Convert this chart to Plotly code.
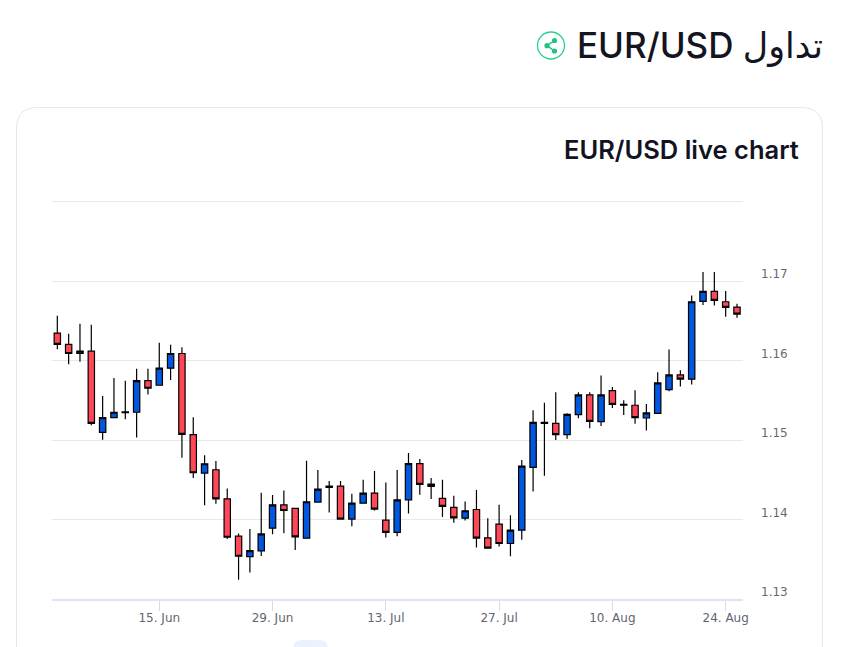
import plotly.graph_objects as go

WIDTH, HEIGHT = 863, 647
LEFT, RIGHT, TOP, BOTTOM = 52, 743, 200, 599  # plot area in page pixels

dates = ['2 Jun', '3 Jun', '4 Jun', '5 Jun', '8 Jun', '9 Jun', '10 Jun', '11 Jun', '12 Jun',
         '15 Jun', '16 Jun', '17 Jun', '18 Jun', '19 Jun', '22 Jun', '23 Jun', '24 Jun', '25 Jun', '26 Jun',
         '29 Jun', '30 Jun', '1 Jul', '2 Jul', '3 Jul', '6 Jul', '7 Jul', '8 Jul', '9 Jul', '10 Jul',
         '13 Jul', '14 Jul', '15 Jul', '16 Jul', '17 Jul', '20 Jul', '21 Jul', '22 Jul', '23 Jul', '24 Jul',
         '27 Jul', '28 Jul', '29 Jul', '30 Jul', '31 Jul', '3 Aug', '4 Aug', '5 Aug', '6 Aug', '7 Aug',
         '10 Aug', '11 Aug', '12 Aug', '13 Aug', '14 Aug', '17 Aug', '18 Aug', '19 Aug', '20 Aug', '21 Aug',
         '24 Aug', '25 Aug']

opens = [1.16345, 1.16202, 1.16088, 1.16118, 1.15096, 1.15281, 1.15344, 1.15349, 1.15748,
         1.15689, 1.15903, 1.16088, 1.15067, 1.14584, 1.14626, 1.14260, 1.13790, 1.13533, 1.13605,
         1.13891, 1.14185, 1.14139, 1.13765, 1.14219, 1.14404, 1.14420, 1.14005, 1.14206, 1.14332,
         1.13992, 1.13837, 1.14248, 1.14702, 1.14446, 1.14265, 1.14152, 1.14017, 1.14126, 1.13769,
         1.13942, 1.13698, 1.13866, 1.14655, 1.15210, 1.15210, 1.15067, 1.15319, 1.15567, 1.15231,
         1.15622, 1.15437, 1.15437, 1.15277, 1.15336, 1.15634, 1.15819, 1.15765, 1.16744, 1.16870,
         1.16739, 1.16672]
highs = [1.16563, 1.16336, 1.16462, 1.16450, 1.15555, 1.15781, 1.15744, 1.15895, 1.15895,
         1.16223, 1.16197, 1.16168, 1.15286, 1.14807, 1.14735, 1.14391, 1.13823, 1.13882, 1.14336,
         1.14307, 1.14365, 1.14139, 1.14740, 1.14622, 1.14483, 1.14483, 1.14324, 1.14500, 1.14609,
         1.14467, 1.14622, 1.14836, 1.14761, 1.14521, 1.14500, 1.14299, 1.14227, 1.14370, 1.14017,
         1.14185, 1.14055, 1.14748, 1.15374, 1.15470, 1.15601, 1.15336, 1.15601, 1.15601, 1.15811,
         1.15668, 1.15500, 1.15626, 1.15454, 1.15853, 1.16139, 1.15878, 1.16819, 1.17113, 1.17113,
         1.16874, 1.16714]
lows = [1.16143, 1.15954, 1.15983, 1.15185, 1.15004, 1.15273, 1.15260, 1.15033, 1.15571,
        1.15689, 1.15756, 1.14777, 1.14521, 1.14180, 1.14197, 1.13756, 1.13243, 1.13332, 1.13542,
        1.13815, 1.13827, 1.13617, 1.13765, 1.14219, 1.14089, 1.14005, 1.13916, 1.14206, 1.14114,
        1.13774, 1.13790, 1.14076, 1.14311, 1.14257, 1.14030, 1.13958, 1.13988, 1.13648, 1.13639,
        1.13660, 1.13538, 1.13744, 1.14353, 1.14550, 1.15000, 1.15017, 1.15273, 1.15147, 1.15176,
        1.15403, 1.15315, 1.15206, 1.15118, 1.15336, 1.15613, 1.15672, 1.15697, 1.16697, 1.16693,
        1.16550, 1.16538]
closes = [1.16202, 1.16088, 1.16118, 1.15210, 1.15281, 1.15349, 1.15353, 1.15748, 1.15651,
          1.15903, 1.16088, 1.15071, 1.14588, 1.14701, 1.14260, 1.13777, 1.13538, 1.13609, 1.13819,
          1.14185, 1.14113, 1.13782, 1.14223, 1.14383, 1.14420, 1.14005, 1.14206, 1.14332, 1.14131,
          1.13837, 1.14248, 1.14702, 1.14441, 1.14416, 1.14164, 1.14021, 1.14110, 1.13765, 1.13639,
          1.13698, 1.13866, 1.14672, 1.15223, 1.15223, 1.15067, 1.15323, 1.15567, 1.15235, 1.15567,
          1.15449, 1.15449, 1.15281, 1.15340, 1.15718, 1.15819, 1.15765, 1.16739, 1.16870, 1.16756,
          1.16668, 1.16584]

x_tick_dates = ['15 Jun', '29 Jun', '13 Jul', '27 Jul', '10 Aug', '24 Aug']
x_tick_labels = ['15. Jun', '29. Jun', '13. Jul', '27. Jul', '10. Aug', '24. Aug']
y_grid = [1.13, 1.14, 1.15, 1.16, 1.17, 1.18]
y_labels = ['1.13', '1.14', '1.15', '1.16', '1.17']


def px(x):
    return (x - LEFT) / (RIGHT - LEFT)


def py(y):
    return (BOTTOM - y) / (BOTTOM - TOP)


def page_path(points):
    return ' '.join(f'{cmd} {px(x)} {py(y)}' for cmd, x, y in points)


def rounded_top(x0, x1, y0, y1, r):
    # open at the bottom, the shape runs off the page there
    return (f'M {px(x0)} {py(y1)} L {px(x0)} {py(y0 + r)} '
            f'Q {px(x0)} {py(y0)} {px(x0 + r)} {py(y0)} L {px(x1 - r)} {py(y0)} '
            f'Q {px(x1)} {py(y0)} {px(x1)} {py(y0 + r)} L {px(x1)} {py(y1)}')


fig = go.Figure(go.Candlestick(
    x=dates, open=opens, high=highs, low=lows, close=closes,
    increasing=dict(fillcolor='#0057e0', line=dict(color='#000000', width=1.2)),
    decreasing=dict(fillcolor='#ff4757', line=dict(color='#000000', width=1.2)),
    whiskerwidth=0,
    showlegend=False,
))

shapes = [
    dict(type='path', path=rounded_top(16.5, 822.5, 107.5, 660, 21), xref='paper', yref='paper',
         line=dict(color='#e6e6f0', width=1), layer='below'),
    dict(type='path', path=rounded_top(293, 328, 640, 660, 9) + ' Z', xref='paper', yref='paper',
         fillcolor='#ebf2fe', line=dict(width=0), layer='below'),
    dict(type='circle', xref='paper', yref='paper', x0=px(537.5), x1=px(564.5), y0=py(59), y1=py(32),
         line=dict(color='#2ad18c', width=1.3)),
    dict(type='path', path=page_path([('M', 554.5, 40.5), ('L', 547, 45.7), ('L', 554.5, 51)]),
         xref='paper', yref='paper', line=dict(color='#1fc47f', width=1.5)),
]
for cx, cy in [(554.5, 40.5), (547, 45.7), (554.5, 51)]:
    shapes.append(dict(type='circle', xref='paper', yref='paper',
                       x0=px(cx - 2.6), x1=px(cx + 2.6), y0=py(cy + 2.6), y1=py(cy - 2.6),
                       fillcolor='#1fc47f', line=dict(width=0)))

annotations = [
    dict(text='\u202bتداول EUR/USD\u202c', x=px(825), y=py(45), xref='paper', yref='paper',
         xanchor='right', yanchor='middle', showarrow=False,
         font=dict(family='Inter, DejaVu Sans, sans-serif', size=35, weight=500, color='#15151f')),
    dict(text='EUR/USD live chart', x=px(801), y=py(150), xref='paper', yref='paper',
         xanchor='right', yanchor='middle', showarrow=False,
         font=dict(family='Inter, sans-serif', size=25.5, weight=600, color='#12131f')),
]
for value in y_labels:
    annotations.append(dict(text=value, x=px(759), y=float(value), xref='paper', yref='y',
                            xanchor='left', yanchor='middle', yshift=7, showarrow=False,
                            font=dict(family='DejaVu Sans, sans-serif', size=12, color='#5f6b7a')))

fig.update_layout(
    width=WIDTH, height=HEIGHT,
    margin=dict(l=LEFT, r=WIDTH - RIGHT, t=TOP, b=HEIGHT - BOTTOM),
    paper_bgcolor='white', plot_bgcolor='white',
    boxgap=0.2, boxgroupgap=0.3,
    shapes=shapes, annotations=annotations,
    xaxis=dict(type='category', rangeslider=dict(visible=False),
               categoryorder='array', categoryarray=dates,
               range=[-0.47, 60.53],
               tickmode='array', tickvals=x_tick_dates, ticktext=x_tick_labels,
               ticks='outside', ticklen=10, tickcolor='#d5dcec', tickwidth=1,
               showgrid=False, zeroline=False,
               showline=True, linecolor='#dde3f0', linewidth=2,
               ticklabelstandoff=-3,
               tickfont=dict(family='DejaVu Sans, sans-serif', size=12, color='#5f6570')),
    yaxis=dict(range=[1.13, 1.18019], tickmode='array', tickvals=y_grid,
               showticklabels=False, ticks='',
               showgrid=True, gridcolor='#e8e8e8', gridwidth=1, zeroline=False),
)

fig.write_html('out.html', config=dict(displayModeBar=False),
               post_script="document.body.style.margin='0';document.body.style.overflow='hidden';")
